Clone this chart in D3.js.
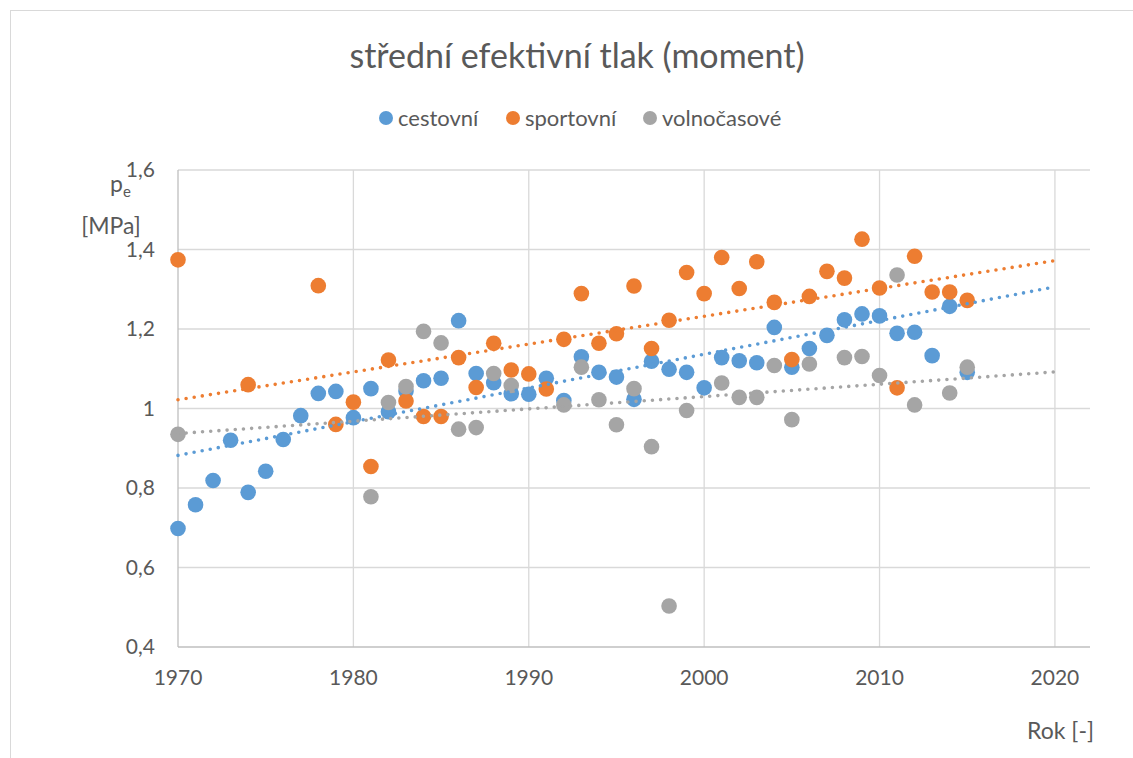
<!DOCTYPE html>
<html><head><meta charset="utf-8">
<script src="https://cdn.jsdelivr.net/npm/d3@7"></script>
<style>
body{margin:0;background:#fff}
text{font-family:Lato,'Open Sans',sans-serif;fill:#595959}
</style>
</head><body>
<svg id="c" width="1133" height="758"></svg>
<script>
const seriesNames = ["cestovní", "sportovní", "volnočasové"];
const seriesColors = ["#5B9BD5", "#ED7D31", "#A5A5A5"];

const cestovniYears = d3.range(1970, 2016);
const cestovniValues = [0.698,0.758,0.819,0.920,0.789,0.842,0.922,0.982,1.038,1.043,
  0.977,1.050,0.992,1.044,1.070,1.076,1.221,1.088,1.065,1.037,
  1.036,1.076,1.020,1.130,1.091,1.079,1.023,1.119,1.099,1.091,
  1.052,1.128,1.120,1.115,1.204,1.104,1.151,1.184,1.223,1.238,
  1.233,1.189,1.192,1.133,1.257,1.091];

const sportovniYears = [1970,1974,1978,1979,1980,1981,1982,1983,1984,1985,1986,1987,1988,1989,
  1990,1991,1992,1993,1994,1995,1996,1997,1998,1999,2000,2001,2002,2003,2004,2005,2006,
  2007,2008,2009,2010,2011,2012,2013,2014,2015];
const sportovniValues = [1.374,1.060,1.309,0.960,1.016,0.854,1.122,1.019,0.980,0.980,1.128,1.053,1.164,1.097,
  1.087,1.049,1.174,1.289,1.164,1.188,1.308,1.151,1.222,1.342,1.289,1.380,1.302,1.369,1.267,1.123,1.282,
  1.345,1.328,1.426,1.303,1.052,1.383,1.293,1.293,1.272];

const volnocasoveYears = [1970,1981,1982,1983,1984,1985,1986,1987,1988,1989,
  1992,1993,1994,1995,1996,1997,1998,1999,2001,2002,2003,2004,2005,2006,
  2008,2009,2010,2011,2012,2014,2015];
const volnocasoveValues = [0.935,0.778,1.015,1.055,1.194,1.165,0.948,0.952,1.088,1.058,
  1.009,1.104,1.022,0.959,1.050,0.904,0.503,0.995,1.064,1.028,1.028,1.108,0.972,1.112,
  1.128,1.131,1.083,1.336,1.009,1.039,1.104];

// linear trendlines (at their ends)
const trendYears = [1970, 2020];
const cestovniTrend = [0.882, 1.306];
const sportovniTrend = [1.022, 1.372];
const volnocasoveTrend = [0.937, 1.092];

const xTicks = [1970,1980,1990,2000,2010,2020];
const yTicks = [0.4,0.6,0.8,1.0,1.2,1.4,1.6];

const series = [
  {name: seriesNames[0], color: seriesColors[0], pts: cestovniYears.map((y,i)=>[y,cestovniValues[i]]), trend: trendYears.map((y,i)=>[y,cestovniTrend[i]])},
  {name: seriesNames[1], color: seriesColors[1], pts: sportovniYears.map((y,i)=>[y,sportovniValues[i]]), trend: trendYears.map((y,i)=>[y,sportovniTrend[i]])},
  {name: seriesNames[2], color: seriesColors[2], pts: volnocasoveYears.map((y,i)=>[y,volnocasoveValues[i]]), trend: trendYears.map((y,i)=>[y,volnocasoveTrend[i]])}
];

const svg = d3.select("#c");
const L = 178, R = 1090, T = 170, B = 647;
const x = d3.scaleLinear().domain([1970, 2022]).range([L, R]);
const y = d3.scaleLinear().domain([0.4, 1.6]).range([B, T]);

// chart border
svg.append("rect").attr("x",10.5).attr("y",10.5).attr("width",1140).attr("height",760)
  .attr("fill","none").attr("stroke","#d9d9d9").attr("stroke-width",1);

// gridlines
svg.append("g").selectAll("line").data(yTicks.filter(t=>t>0.41)).join("line")
  .attr("x1",L).attr("x2",R).attr("y1",d=>y(d)).attr("y2",d=>y(d))
  .attr("stroke","#d9d9d9").attr("stroke-width",1.3);
svg.append("g").selectAll("line").data(xTicks.filter(t=>t>1970)).join("line")
  .attr("x1",d=>x(d)).attr("x2",d=>x(d)).attr("y1",T).attr("y2",B)
  .attr("stroke","#d9d9d9").attr("stroke-width",1.3);

// axes lines
svg.append("line").attr("x1",L).attr("x2",R).attr("y1",B).attr("y2",B).attr("stroke","#bfbfbf").attr("stroke-width",1.3);
svg.append("line").attr("x1",L).attr("x2",L).attr("y1",T).attr("y2",B).attr("stroke","#bfbfbf").attr("stroke-width",1.3);

// tick labels
const fmt = d => d3.format(".1f")(d).replace(".", ",").replace(/^1,0$/,"1");
svg.append("g").selectAll("text").data(yTicks).join("text")
  .attr("x",155).attr("y",d=>y(d)).attr("dy","0.35em").attr("text-anchor","end")
  .attr("font-size",21).text(d=>fmt(d));
svg.append("g").selectAll("text").data(xTicks).join("text")
  .attr("x",d=>x(d)).attr("y",678).attr("dy","0.35em").attr("text-anchor","middle")
  .attr("font-size",21).text(d=>d);

// title
svg.append("text").attr("x",577).attr("y",56).attr("dy","0.35em").attr("text-anchor","middle")
  .attr("font-size",34).text("střední efektivní tlak (moment)");

// legend
const legX = [386, 513, 650];
const lg = svg.append("g").selectAll("g").data(series).join("g");
lg.append("circle").attr("cx",(d,i)=>legX[i]).attr("cy",118).attr("r",7).attr("fill",d=>d.color);
lg.append("text").attr("x",(d,i)=>legX[i]+12).attr("y",118).attr("dy","0.35em")
  .attr("font-size",22).text(d=>d.name);

// axis titles
const pt = svg.append("text").attr("x",110).attr("y",192).attr("font-size",23);
pt.append("tspan").text("p");
pt.append("tspan").attr("font-size",15).attr("dy",5).text("e");
svg.append("text").attr("x",111).attr("y",226).attr("dy","0.35em").attr("text-anchor","middle")
  .attr("font-size",23).text("[MPa]");
svg.append("text").attr("x",1094).attr("y",731).attr("dy","0.35em").attr("text-anchor","end")
  .attr("font-size",23).text("Rok [-]");

// points
series.forEach(s => {
  svg.append("g").selectAll("circle").data(s.pts).join("circle")
    .attr("cx",d=>x(d[0])).attr("cy",d=>y(d[1])).attr("r",7.8).attr("fill",s.color);
});

// trendlines
const line = d3.line().x(d=>x(d[0])).y(d=>y(d[1]));
series.forEach(s => {
  svg.append("path").attr("d", line(s.trend)).attr("fill","none")
    .attr("stroke",s.color).attr("stroke-width",3.6)
    .attr("stroke-linecap","round").attr("stroke-dasharray","0 8.2");
});
</script>
</body></html>
